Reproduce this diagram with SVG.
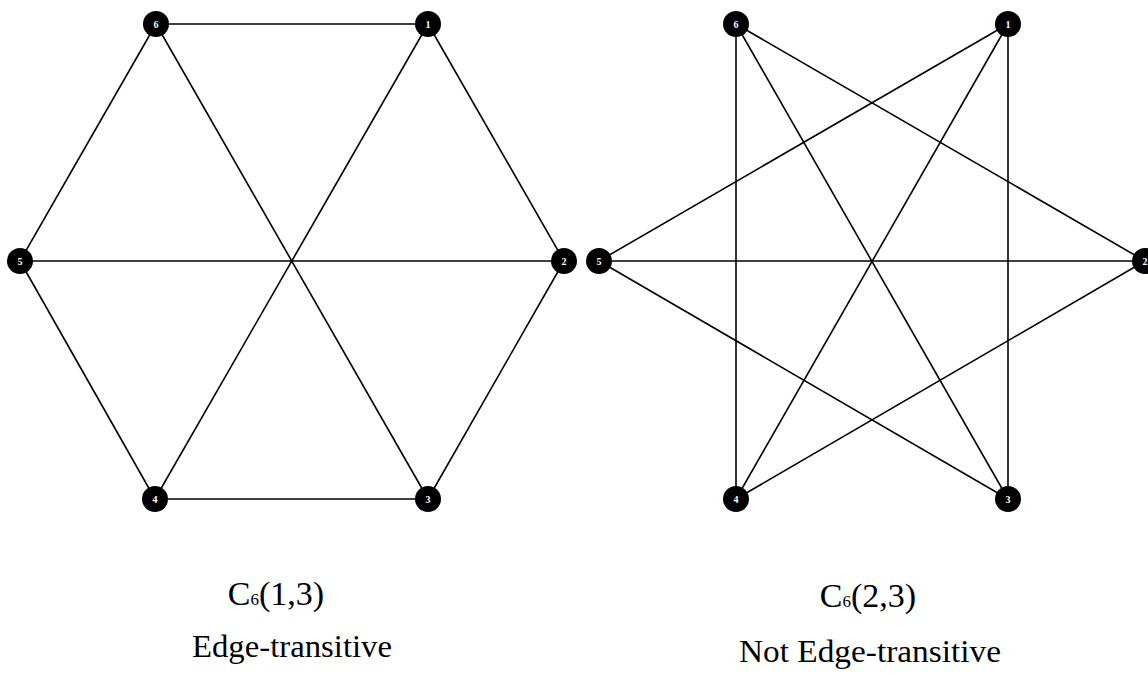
<svg xmlns="http://www.w3.org/2000/svg" width="1148" height="677" viewBox="0 0 1148 677">
<style>
.e{stroke:#000;stroke-width:1.6;fill:none}
.n{fill:#000}
.l{fill:#fff;font-family:"Liberation Serif",serif;font-size:10px;font-weight:bold;text-anchor:middle}
.c{font-family:"Liberation Serif",serif;fill:#000;text-anchor:middle}
</style>
<rect width="1148" height="677" fill="#fff"/>
<g id="connectors">
<!-- left: C6(1,3) -->
<line class="e" x1="156" y1="24" x2="428" y2="24"/>
<line class="e" x1="428" y1="24" x2="564" y2="261"/>
<line class="e" x1="564" y1="261" x2="428" y2="499"/>
<line class="e" x1="428" y1="499" x2="155" y2="499"/>
<line class="e" x1="155" y1="499" x2="20" y2="261"/>
<line class="e" x1="20" y1="261" x2="156" y2="24"/>
<line class="e" x1="428" y1="24" x2="155" y2="499"/>
<line class="e" x1="564" y1="261" x2="20" y2="261"/>
<line class="e" x1="428" y1="499" x2="156" y2="24"/>
<!-- right: C6(2,3) -->
<line class="e" x1="1008" y1="24" x2="1008" y2="499"/>
<line class="e" x1="1145" y1="261" x2="736" y2="499"/>
<line class="e" x1="1008" y1="499" x2="599" y2="261"/>
<line class="e" x1="736" y1="499" x2="736" y2="24"/>
<line class="e" x1="599" y1="261" x2="1008" y2="24"/>
<line class="e" x1="736" y1="24" x2="1145" y2="261"/>
<line class="e" x1="1008" y1="24" x2="736" y2="499"/>
<line class="e" x1="1145" y1="261" x2="599" y2="261"/>
<line class="e" x1="1008" y1="499" x2="736" y2="24"/>
</g>
<g id="L1"><circle class="n" cx="428" cy="24" r="13"/><text class="l" x="428" y="28">1</text></g>
<g id="L2"><circle class="n" cx="564" cy="261" r="13"/><text class="l" x="564" y="265">2</text></g>
<g id="L3"><circle class="n" cx="428" cy="499" r="13"/><text class="l" x="428" y="503">3</text></g>
<g id="L4"><circle class="n" cx="155" cy="499" r="13"/><text class="l" x="155" y="503">4</text></g>
<g id="L5"><circle class="n" cx="20" cy="261" r="13"/><text class="l" x="20" y="265">5</text></g>
<g id="L6"><circle class="n" cx="156" cy="24" r="13"/><text class="l" x="156" y="28">6</text></g>
<g id="R1"><circle class="n" cx="1008" cy="24" r="13"/><text class="l" x="1008" y="28">1</text></g>
<g id="R2"><circle class="n" cx="1145" cy="261" r="13"/><text class="l" x="1145" y="265">2</text></g>
<g id="R3"><circle class="n" cx="1008" cy="499" r="13"/><text class="l" x="1008" y="503">3</text></g>
<g id="R4"><circle class="n" cx="736" cy="499" r="13"/><text class="l" x="736" y="503">4</text></g>
<g id="R5"><circle class="n" cx="599" cy="261" r="13"/><text class="l" x="599" y="265">5</text></g>
<g id="R6"><circle class="n" cx="736" cy="24" r="13"/><text class="l" x="736" y="28">6</text></g>
<g id="caption-left">
<text class="c" x="276" y="605" font-size="34">C<tspan font-size="17">6</tspan>(1,3)</text>
<text class="c" x="292" y="657" font-size="31" textLength="200" lengthAdjust="spacingAndGlyphs">Edge-transitive</text>
</g>
<g id="caption-right">
<text class="c" x="868" y="607" font-size="34">C<tspan font-size="17">6</tspan>(2,3)</text>
<text class="c" x="870" y="662" font-size="31" textLength="262" lengthAdjust="spacingAndGlyphs">Not Edge-transitive</text>
</g>
</svg>
